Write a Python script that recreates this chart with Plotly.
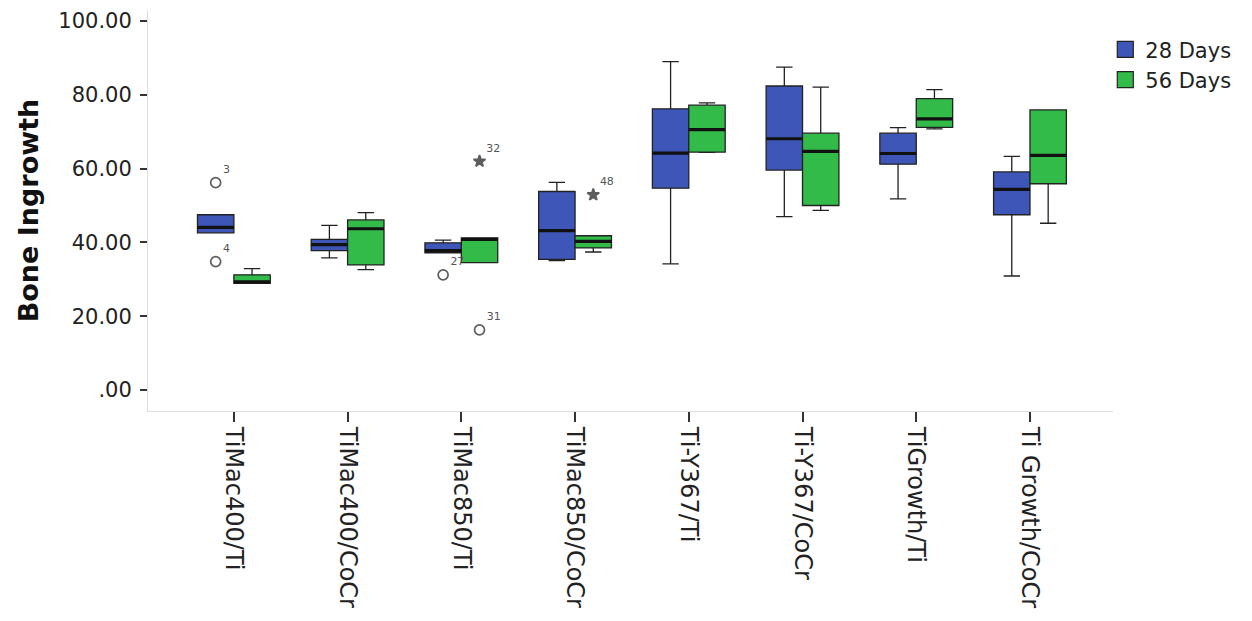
import plotly.graph_objects as go

categories = ["TiMac400/Ti", "TiMac400/CoCr", "TiMac850/Ti", "TiMac850/CoCr",
              "Ti-Y367/Ti", "Ti-Y367/CoCr", "TiGrowth/Ti", "Ti Growth/CoCr"]

# 28 Days box statistics
d28_min = [42.6, 35.8, 37.2, 35.1, 34.2, 47.0, 51.8, 30.9]
d28_q1 = [42.6, 37.8, 37.2, 35.4, 54.7, 59.6, 61.2, 47.5]
d28_med = [44.1, 39.4, 37.8, 43.2, 64.2, 68.1, 64.1, 54.4]
d28_q3 = [47.5, 40.8, 39.9, 53.8, 76.2, 82.4, 69.6, 59.1]
d28_max = [47.5, 44.6, 40.6, 56.3, 89.0, 87.5, 71.1, 63.3]

# 56 Days box statistics
d56_min = [28.9, 32.6, 34.5, 37.4, 64.4, 48.7, 70.8, 45.2]
d56_q1 = [28.9, 33.9, 34.5, 38.5, 64.5, 50.0, 71.2, 55.9]
d56_med = [29.3, 43.7, 40.8, 40.3, 70.6, 64.7, 73.5, 63.6]
d56_q3 = [31.2, 46.1, 41.2, 41.8, 77.2, 69.6, 79.0, 75.9]
d56_max = [32.9, 48.1, 41.2, 41.8, 77.8, 82.1, 81.4, 75.9]

# Outliers: category index, value, case label, kind
out28_idx = [0, 0, 2]
out28_val = [56.2, 34.8, 31.2]
out28_lab = ["3", "4", "27"]
out28_kind = ["circle", "circle", "circle"]

out56_idx = [2, 2, 3]
out56_val = [62.0, 16.3, 52.9]
out56_lab = ["32", "31", "48"]
out56_kind = ["star", "circle", "star"]

y_tickvals = [0, 20, 40, 60, 80, 100]
y_ticktext = [".00", "20.00", "40.00", "60.00", "80.00", "100.00"]

series_names = ["28 Days", "56 Days"]
colors = ["#3E56B8", "#33BB4A"]

BOX_W = 0.32
FONT = "DejaVu Sans"

fig = go.Figure()

series = [
    (d28_min, d28_q1, d28_med, d28_q3, d28_max, out28_idx, out28_val, out28_lab, out28_kind, -BOX_W / 2),
    (d56_min, d56_q1, d56_med, d56_q3, d56_max, out56_idx, out56_val, out56_lab, out56_kind, BOX_W / 2),
]

for s, (mn, q1, md, q3, mx, oi, ov, ol, ok, off) in enumerate(series):
    xs = [i + off for i in range(len(categories))]
    fig.add_trace(go.Box(
        x=xs, q1=q1, median=md, q3=q3, lowerfence=mn, upperfence=mx,
        width=BOX_W, whiskerwidth=0.45, boxpoints=False,
        fillcolor=colors[s], line=dict(color="#222222", width=1.3),
        name=series_names[s], showlegend=False, hoverinfo="skip",
    ))
    # thick median lines
    mxs, mys = [], []
    for x, m in zip(xs, md):
        mxs += [x - BOX_W / 2, x + BOX_W / 2, None]
        mys += [m, m, None]
    fig.add_trace(go.Scatter(x=mxs, y=mys, mode="lines",
                             line=dict(color="#111111", width=3.2),
                             showlegend=False, hoverinfo="skip"))
    # outliers
    ox = [i + off for i in oi]
    fig.add_trace(go.Scatter(
        x=ox, y=ov, mode="markers+text", text=ol, textposition="top right",
        textfont=dict(family=FONT, size=11, color="#555555"),
        marker=dict(
            symbol=["circle-open" if k == "circle" else "star" for k in ok],
            size=[10 if k == "circle" else 9 for k in ok],
            color="#1A1A1A", line=dict(width=1.7, color="#1A1A1A")),
        showlegend=False, hoverinfo="skip"))

# legend entries
for s in range(2):
    fig.add_trace(go.Scatter(
        x=[None], y=[None], mode="markers", name=series_names[s],
        marker=dict(symbol="square", size=22, color=colors[s],
                    line=dict(width=1.2, color="#222222"))))

fig.update_layout(
    width=1244, height=613,
    margin=dict(l=140, r=139, t=2, b=210, autoexpand=False),
    paper_bgcolor="white", plot_bgcolor="white",
    font=dict(family=FONT, color="#222222"),
    legend=dict(x=0.992, y=0.952, xanchor="left", yanchor="top",
                font=dict(family=FONT, size=21, color="#222222"),
                bgcolor="rgba(0,0,0,0)", tracegroupgap=0),
    xaxis=dict(
        range=[-0.755, 7.73], tickmode="array",
        tickvals=list(range(len(categories))), ticktext=categories,
        tickangle=90, tickfont=dict(family=FONT, size=24, color="#222222"),
        ticks="outside", ticklen=10, tickcolor="#333333", tickwidth=1.5,
        showline=True, linecolor="#DDDDDD", linewidth=1,
        showgrid=False, zeroline=False, automargin=False,
        ticklabeloverflow="allow",
    ),
    yaxis=dict(
        range=[-5.7, 103.0], tickmode="array",
        tickvals=y_tickvals, ticktext=y_ticktext,
        tickfont=dict(family=FONT, size=21, color="#222222"),
        ticks="outside", ticklen=7, tickcolor="#333333", tickwidth=1.5,
        ticklabelstandoff=4, ticklabeloverflow="allow",
        showline=True, linecolor="#DDDDDD", linewidth=1,
        showgrid=False, zeroline=False, automargin=False,
        title=dict(text="<b>Bone Ingrowth</b>", standoff=11,
                   font=dict(family=FONT, size=27, color="#111111")),
    ),
)

fig.write_html("out.html")
